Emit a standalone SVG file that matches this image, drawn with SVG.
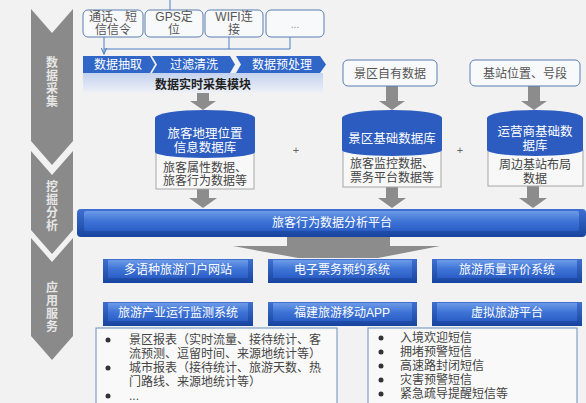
<svg xmlns="http://www.w3.org/2000/svg" width="586" height="403" viewBox="0 0 586 403">
<defs>
<linearGradient id="modG" x1="0" y1="0" x2="0" y2="1"><stop offset="0" stop-color="#c3d2ee"/><stop offset="1" stop-color="#eef1f7"/></linearGradient>
<linearGradient id="btnOut" x1="0" y1="0" x2="0" y2="1"><stop offset="0" stop-color="#3f70d0"/><stop offset="1" stop-color="#17449e"/></linearGradient>
<linearGradient id="btnIn" x1="0" y1="0" x2="0" y2="1"><stop offset="0" stop-color="#6d9be8"/><stop offset="0.5" stop-color="#3f74d6"/><stop offset="1" stop-color="#2a5ec6"/></linearGradient>
<marker id="ah" viewBox="0 0 10 10" refX="9" refY="5" markerWidth="7" markerHeight="7" orient="auto"><path d="M0,1 L9,5 L0,9" fill="none" stroke="#4f7fc0" stroke-width="1.5"/></marker>
<style>
text{font-family:"Liberation Sans","Noto Sans CJK SC",sans-serif;font-size:12px;}
.chev{fill:#8a8a8a;}
.ct{fill:#e6e6e6;font-weight:bold;text-anchor:middle;font-size:12px;writing-mode:vertical-rl;letter-spacing:1px;font-family:"Noto Sans CJK SC",sans-serif;}
.src{fill:#f8f9fb;stroke:#5b7fb0;stroke-width:1;}
.st{fill:#555;text-anchor:middle;}
.pipe{fill:#2f66c8;}
.pt{fill:#fff;text-anchor:middle;}
.db{fill:#2c5cc0;}
.dbt{fill:#fff;text-anchor:middle;font-size:12.5px;}
.pan{fill:#f8f8f8;stroke:#a6a6a6;stroke-width:1;}
.pnt{fill:#444;text-anchor:middle;}
.garr{fill:#8c8c8c;}
.ln{stroke:#4f7fc0;stroke-width:1;fill:none;}
.bt{fill:#fff;text-anchor:middle;}
.lst{fill:#f9f9f9;stroke:#6a8cc0;stroke-width:1;}
.lt{fill:#444;}
.bul{fill:#333;}
.plus{fill:#666;text-anchor:middle;font-size:11px;}
</style>
</defs>
<rect x="0" y="0" width="586" height="403" fill="#f2f2f2"/>

<g id="stage-collect">
<polygon class="chev" points="31,9 52,33 73,9 73,141 52,165 31,141"/>
<text class="ct" x="52" y="82">数据采集</text>
</g>
<g id="stage-mine">
<polygon class="chev" points="31,151 52,175 73,151 73,230 52,254 31,230"/>
<text class="ct" x="52" y="206">挖掘分析</text>
</g>
<g id="stage-apply">
<polygon class="chev" points="31,238 52,262 73,238 73,336 52,360 31,336"/>
<text class="ct" x="52" y="307">应用服务</text>
</g>

<g id="connectors">
<line class="ln" x1="170" y1="0" x2="170" y2="10"/>
<line class="ln" x1="104" y1="37" x2="104" y2="54" marker-end="url(#ah)"/>
<line class="ln" x1="104" y1="49" x2="290" y2="49"/>
<line class="ln" x1="229" y1="37" x2="229" y2="49"/>
<line class="ln" x1="290" y1="37" x2="290" y2="49"/>
<polygon class="garr" points="197,93 209,93 209,101 216,101 203,110 190,101 197,101"/>
<polygon class="garr" points="386,86 398,86 398,101 405,101 392,110 379,101 386,101"/>
<polygon class="garr" points="528,86 540,86 540,101 547,101 534,110 521,101 528,101"/>
<polygon class="garr" points="197,189 209,189 209,198 217,198 203,208 189,198 197,198"/>
<polygon class="garr" points="386,187 398,187 398,198 406,198 392,208 378,198 386,198"/>
<polygon class="garr" points="527,186 539,186 539,198 547,198 533,208 519,198 527,198"/>
<polygon class="garr" points="287,237 390,237 390,246 440,246 378,258 298,258 233,246 287,246"/>
</g>

<g id="src-calls"><rect class="src" x="83" y="10" width="60" height="27" rx="5"/><text class="st" x="113" y="21">通话、短<tspan x="113" y="34">信信令</tspan></text></g>
<g id="src-gps"><rect class="src" x="145" y="10" width="58" height="27" rx="5"/><text class="st" x="174" y="21">GPS定<tspan x="174" y="34">位</tspan></text></g>
<g id="src-wifi"><rect class="src" x="205" y="10" width="58" height="27" rx="5"/><text class="st" x="234" y="21">WIFI连<tspan x="234" y="34">接</tspan></text></g>
<g id="src-more"><rect class="src" x="266" y="10" width="58" height="27" rx="5"/><text class="st" x="295" y="28" style="font-size:10px;fill:#888">...</text></g>

<g id="pipe-extract"><polygon class="pipe" points="83,56 150,56 155,64.5 150,73 83,73"/><text class="pt" x="118" y="69">数据抽取</text></g>
<g id="pipe-filter"><polygon class="pipe" points="152,56 230,56 235,64.5 230,73 152,73 157,64.5"/><text class="pt" x="194" y="69">过滤清洗</text></g>
<g id="pipe-pre"><polygon class="pipe" points="236,56 320,56 326,64.5 320,73 236,73 241,64.5"/><text class="pt" x="282" y="69">数据预处理</text></g>
<g id="module"><rect x="83" y="73" width="240" height="20" fill="url(#modG)"/><text x="203" y="89" style="fill:#222;text-anchor:middle;font-weight:bold">数据实时采集模块</text></g>

<g id="src-scenic"><rect class="src" x="343" y="60" width="94" height="26" rx="5"/><text class="st" x="390" y="78">景区自有数据</text></g>
<g id="src-station"><rect class="src" x="470" y="60" width="110" height="26" rx="5"/><text class="st" x="525" y="78">基站位置、号段</text></g>

<g id="db-geo">
<rect class="pan" x="156" y="150" width="98" height="39"/>
<path class="db" d="M155,118 A50,8 0 0 1 255,118 L255,152 A50,6 0 0 1 155,152 Z"/>
<text class="dbt" x="205" y="138">旅客地理位置<tspan x="205" y="152">信息数据库</tspan></text>
<text class="pnt" x="205" y="172">旅客属性数据、<tspan x="205" y="185">旅客行为数据等</tspan></text>
</g>
<g id="db-scenic">
<rect class="pan" x="343" y="150" width="98" height="37"/>
<path class="db" d="M342,118 A50,8 0 0 1 442,118 L442,150 A50,6 0 0 1 342,150 Z"/>
<text class="dbt" x="392" y="143">景区基础数据库</text>
<text class="pnt" x="392" y="168">旅客监控数据、<tspan x="392" y="182">票务平台数据等</tspan></text>
</g>
<g id="db-operator">
<rect class="pan" x="488" y="150" width="95" height="36"/>
<path class="db" d="M487,118 A48,8 0 0 1 583,118 L583,150 A48,6 0 0 1 487,150 Z"/>
<text class="dbt" x="535" y="136">运营商基础数<tspan x="535" y="150">据库</tspan></text>
<text class="pnt" x="535" y="169">周边基站布局<tspan x="535" y="183">数据</tspan></text>
</g>
<text class="plus" x="296" y="154">+</text>
<text class="plus" x="460" y="154">+</text>

<g id="platform">
<rect x="77" y="209" width="509" height="28" rx="4" fill="url(#btnOut)"/>
<rect x="84" y="211" width="495" height="20" rx="2" fill="url(#btnIn)"/>
<text class="bt" x="332" y="227">旅客行为数据分析平台</text>
</g>

<g id="app-portal"><rect x="103" y="259" width="150" height="24" fill="url(#btnOut)"/><rect x="108" y="260" width="140" height="18" fill="url(#btnIn)"/><text class="bt" x="178" y="274">多语种旅游门户网站</text></g>
<g id="app-ticket"><rect x="268" y="259" width="149" height="24" fill="url(#btnOut)"/><rect x="273" y="260" width="139" height="18" fill="url(#btnIn)"/><text class="bt" x="342" y="274">电子票务预约系统</text></g>
<g id="app-quality"><rect x="432" y="259" width="150" height="24" fill="url(#btnOut)"/><rect x="437" y="260" width="140" height="18" fill="url(#btnIn)"/><text class="bt" x="507" y="274">旅游质量评价系统</text></g>
<g id="app-monitor"><rect x="103" y="302" width="150" height="24" fill="url(#btnOut)"/><rect x="108" y="303" width="140" height="18" fill="url(#btnIn)"/><text class="bt" x="178" y="317">旅游产业运行监测系统</text></g>
<g id="app-mobile"><rect x="268" y="302" width="149" height="24" fill="url(#btnOut)"/><rect x="273" y="303" width="139" height="18" fill="url(#btnIn)"/><text class="bt" x="342" y="317">福建旅游移动APP</text></g>
<g id="app-virtual"><rect x="432" y="302" width="150" height="24" fill="url(#btnOut)"/><rect x="437" y="303" width="140" height="18" fill="url(#btnIn)"/><text class="bt" x="507" y="317">虚拟旅游平台</text></g>

<g id="reports">
<rect class="lst" x="96" y="328" width="241" height="80"/>
<circle class="bul" cx="108" cy="340" r="2.5"/>
<circle class="bul" cx="108" cy="368" r="2.5"/>
<circle class="bul" cx="108" cy="396" r="2.5"/>
<text class="lt" x="129" y="344">景区报表（实时流量、接待统计、客<tspan x="129" y="358">流预测、逗留时间、来源地统计等）</tspan><tspan x="129" y="372">城市报表（接待统计、旅游天数、热</tspan><tspan x="129" y="386">门路线、来源地统计等）</tspan><tspan x="129" y="400">...</tspan></text>
</g>
<g id="sms">
<rect class="lst" x="368" y="328" width="209" height="80"/>
<circle class="bul" cx="381" cy="338" r="2.5"/>
<circle class="bul" cx="381" cy="352" r="2.5"/>
<circle class="bul" cx="381" cy="366" r="2.5"/>
<circle class="bul" cx="381" cy="380" r="2.5"/>
<circle class="bul" cx="381" cy="394" r="2.5"/>
<text class="lt" x="400" y="342">入境欢迎短信<tspan x="400" y="356">拥堵预警短信</tspan><tspan x="400" y="370">高速路封闭短信</tspan><tspan x="400" y="384">灾害预警短信</tspan><tspan x="400" y="398">紧急疏导提醒短信等</tspan></text>
</g>
</svg>
